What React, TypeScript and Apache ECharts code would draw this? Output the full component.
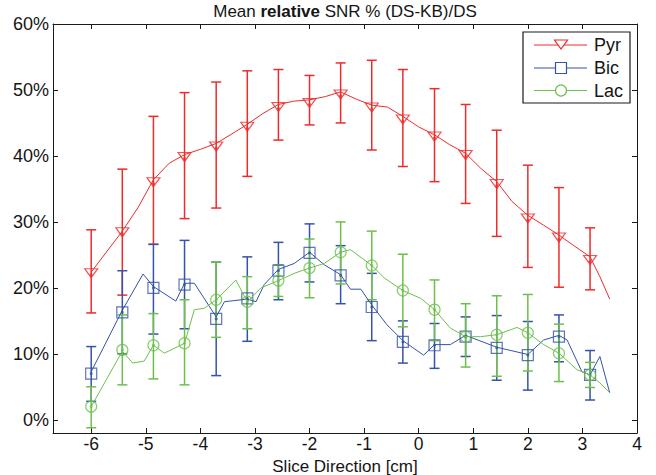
import React, { useEffect, useRef } from 'react';
import * as echarts from 'echarts';

// Marker x positions (cm)
const sliceX = [-6, -5.43, -4.86, -4.29, -3.71, -3.14, -2.57, -2.0, -1.43, -0.86, -0.29, 0.29, 0.86, 1.43, 2.0, 2.57, 3.14];
const xTicks = [-6, -5, -4, -3, -2, -1, 0, 1, 2, 3, 4];
const yTicks = [0, 10, 20, 30, 40, 50, 60];

// Pyr
const pyrMean = [22.0, 28.2, 35.8, 39.6, 41.2, 44.2, 47.2, 47.8, 49.1, 47.1, 45.3, 42.7, 39.9, 35.5, 30.3, 27.4, 24.0];
const pyrUpper = [28.8, 38.0, 46.0, 49.6, 51.2, 52.9, 53.1, 52.2, 54.1, 54.5, 53.1, 50.2, 47.8, 43.9, 38.6, 35.2, 29.1];
const pyrLower = [16.2, 18.9, 26.6, 30.5, 32.1, 36.9, 42.4, 44.7, 45.0, 40.9, 38.4, 36.1, 32.8, 27.8, 23.1, 20.1, 19.7];
const pyrLineX = [-6, -5.43, -5.14, -4.86, -4.57, -4.29, -4.0, -3.71, -3.43, -3.14, -2.86, -2.57, -2.29, -2.0, -1.71, -1.43, -1.14, -0.86, -0.57, -0.29, 0, 0.29, 0.57, 0.86, 1.14, 1.43, 1.71, 2.0, 2.29, 2.57, 2.86, 3.14, 3.32, 3.5];
const pyrLineY = [22.4, 28.6, 32.2, 36.4, 38.9, 40.2, 41.0, 41.9, 43.3, 44.8, 46.4, 47.8, 48.3, 48.5, 49.0, 49.7, 48.6, 47.7, 47.4, 46.0, 44.4, 43.2, 41.7, 40.4, 38.1, 36.1, 33.1, 31.0, 29.5, 28.0, 26.3, 24.7, 21.7, 18.3];

// Bic
const bicMean = [7.0, 16.3, 20.0, 20.5, 15.3, 18.4, 22.6, 25.3, 21.9, 17.1, 11.8, 11.3, 12.6, 10.9, 9.8, 12.6, 6.8];
const bicUpper = [11.1, 22.6, 26.6, 27.2, 23.9, 24.7, 26.9, 29.7, 26.4, 22.2, 15.0, 14.6, 15.6, 15.8, 14.9, 15.9, 10.5];
const bicLower = [2.8, 10.0, 13.0, 13.8, 6.7, 11.9, 18.2, 20.9, 17.6, 12.0, 8.6, 7.8, 9.6, 6.0, 4.5, 8.8, 3.0];
const bicLineX = [-6, -5.43, -5.05, -4.86, -4.45, -4.29, -4.11, -3.71, -3.56, -3.14, -2.98, -2.83, -2.57, -2.28, -2.0, -1.73, -1.43, -1.25, -1.06, -0.86, -0.58, -0.29, 0.09, 0.29, 0.58, 0.86, 1.43, 2.0, 2.29, 2.57, 2.72, 2.99, 3.14, 3.32, 3.5];
const bicLineY = [7.3, 16.6, 22.1, 20.2, 18.0, 20.7, 20.7, 15.6, 17.9, 18.3, 17.9, 20.5, 22.8, 23.7, 25.4, 23.5, 22.0, 19.8, 19.8, 17.4, 14.4, 12.0, 9.8, 11.4, 11.4, 12.8, 11.0, 9.9, 12.1, 12.8, 12.1, 7.3, 6.8, 9.6, 4.1];

// Lac
const lacMean = [2.0, 10.6, 11.3, 11.6, 18.2, 17.9, 21.1, 23.0, 25.4, 23.4, 19.6, 16.7, 12.6, 12.9, 13.2, 10.1, 6.8];
const lacUpper = [5.0, 15.9, 16.1, 18.2, 23.9, 21.7, 23.5, 27.4, 30.0, 28.6, 25.1, 21.2, 17.6, 18.8, 19.0, 14.5, 8.7];
const lacLower = [-1.2, 5.3, 6.2, 5.3, 12.5, 13.8, 18.7, 18.5, 20.6, 18.2, 14.1, 12.0, 8.0, 6.6, 7.4, 5.8, 4.9];
const lacLineX = [-6, -5.43, -5.24, -5.03, -4.86, -4.66, -4.29, -4.11, -3.93, -3.71, -3.35, -3.14, -2.89, -2.57, -2.28, -2.0, -1.73, -1.43, -1.25, -0.86, -0.63, -0.29, 0.04, 0.29, 0.58, 0.86, 1.13, 1.43, 1.80, 2.0, 2.29, 2.57, 2.90, 3.14, 3.32, 3.5];
const lacLineY = [2.0, 10.4, 8.6, 8.9, 11.3, 10.1, 11.6, 16.7, 16.9, 18.2, 21.2, 17.9, 20.0, 21.1, 22.2, 23.0, 23.7, 25.4, 25.8, 23.4, 21.5, 19.6, 18.4, 16.7, 13.9, 12.6, 12.6, 12.9, 14.0, 13.2, 11.4, 10.1, 7.6, 6.8, 5.6, 4.1];

const seriesNames = ['Pyr', 'Bic', 'Lac'];
const RED = '#ee2b2b';
const BLUE = '#3553a8';
const GREEN = '#6cc04a';
const FONT = "'Liberation Sans', Arial, sans-serif";
const TXT = '#151515';
const TRI = 'path://M0,0L14,0L7,10Z';

function errSeries(color: string, lo: number[], hi: number[]) {
  return {
    type: 'custom',
    xAxisIndex: 0,
    yAxisIndex: 0,
    silent: true,
    data: sliceX.map((x, i) => [x, lo[i], hi[i]]),
    encode: { x: 0, y: [1, 2] },
    renderItem: (params: any, api: any) => {
      const x = api.value(0);
      const pLo = api.coord([x, api.value(1)]);
      const pHi = api.coord([x, api.value(2)]);
      const w = 5;
      const st = { stroke: color, lineWidth: 1.5 };
      return {
        type: 'group',
        children: [
          { type: 'line', shape: { x1: pLo[0], y1: pLo[1], x2: pHi[0], y2: pHi[1] }, style: st },
          { type: 'line', shape: { x1: pHi[0] - w, y1: pHi[1], x2: pHi[0] + w, y2: pHi[1] }, style: st },
          { type: 'line', shape: { x1: pLo[0] - w, y1: pLo[1], x2: pLo[0] + w, y2: pLo[1] }, style: st },
        ],
      };
    },
  };
}

function lineSeries(name: string, color: string, xs: number[], ys: number[]) {
  return {
    name,
    type: 'line',
    data: xs.map((x, i) => [x, ys[i]]),
    symbol: 'none',
    lineStyle: { color, width: 1 },
    silent: true,
  };
}

function markerSeries(color: string, means: number[], symbol: string, size: any, offset: number[]) {
  return {
    type: 'scatter',
    data: sliceX.map((x, i) => [x, means[i]]),
    symbol,
    symbolSize: size,
    symbolOffset: offset,
    symbolKeepAspect: false,
    itemStyle: { color: 'rgba(0,0,0,0)', borderColor: color, borderWidth: 1.2 },
    silent: true,
  };
}

function dotSeries(color: string, means: number[]) {
  return {
    type: 'scatter',
    data: sliceX.map((x, i) => [x, means[i]]),
    symbol: 'circle',
    symbolSize: 3,
    itemStyle: { color },
    silent: true,
  };
}

const legendTop = 32;
const legendLeft = 523;
const legendW = 107;
const legendH = 71;
const legendRows = [45, 68, 90.5];

function legendGraphics() {
  const els: any[] = [
    { type: 'rect', shape: { x: legendLeft, y: legendTop, width: legendW, height: legendH }, style: { fill: '#fff', stroke: '#1a1a1a', lineWidth: 1.2 }, z: 100 },
  ];
  const colors = [RED, BLUE, GREEN];
  seriesNames.forEach((n, i) => {
    const y = legendRows[i];
    const c = colors[i];
    els.push({ type: 'line', shape: { x1: 534, y1: y, x2: 587, y2: y }, style: { stroke: c, lineWidth: 1 }, z: 101 });
    if (i === 0) {
      els.push({ type: 'polygon', shape: { points: [[554.5, y - 5], [567.5, y - 5], [561, y + 4]] }, style: { fill: '#fff', stroke: c, lineWidth: 1.2 }, z: 102 });
    } else if (i === 1) {
      els.push({ type: 'rect', shape: { x: 555.5, y: y - 5.5, width: 11, height: 11 }, style: { fill: '#fff', stroke: c, lineWidth: 1.2 }, z: 102 });
    } else {
      els.push({ type: 'circle', shape: { cx: 561, cy: y, r: 5.5 }, style: { fill: '#fff', stroke: c, lineWidth: 1.2 }, z: 102 });
    }
    els.push({ type: 'text', x: 594, y, style: { text: n, font: `18px ${FONT}`, fill: TXT, verticalAlign: 'middle', align: 'left' }, z: 102 });
  });
  return els;
}

export default function App() {
  const ref = useRef<HTMLDivElement>(null);
  useEffect(() => {
    if (!ref.current) return;
    const chart = echarts.init(ref.current, null, { renderer: 'svg' });
    const axisLine = { show: true, onZero: false, lineStyle: { color: '#1a1a1a', width: 1 } };
    const xBase = {
      type: 'value',
      min: -6.7,
      max: 4,
      splitLine: { show: false },
      axisLine,
      axisTick: { show: true, inside: true, length: 5, lineStyle: { color: '#1a1a1a' }, customValues: xTicks },
    };
    const yBase = {
      type: 'value',
      min: -2,
      max: 60,
      splitLine: { show: false },
      axisLine,
      axisTick: { show: true, inside: true, length: 5, lineStyle: { color: '#1a1a1a' }, customValues: yTicks },
    };
    const option: any = {
      animation: false,
      backgroundColor: '#ffffff',
      grid: { left: 53, right: 19, top: 24, bottom: 42, containLabel: false, outerBoundsMode: 'none' },
      xAxis: [
        {
          ...xBase,
          position: 'bottom',
          name: 'Slice Direction [cm]',
          nameLocation: 'middle',
          nameGap: 20,
          nameTextStyle: { fontFamily: FONT, fontSize: 17, color: TXT },
          axisLabel: { show: true, customValues: xTicks, fontFamily: FONT, fontSize: 17.5, color: TXT, margin: 2, formatter: (v: number) => String(v) },
        },
        { ...xBase, position: 'top', axisLabel: { show: false } },
      ],
      yAxis: [
        {
          ...yBase,
          position: 'left',
          axisLabel: { show: true, customValues: yTicks, fontFamily: FONT, fontSize: 18, color: TXT, margin: 4, formatter: (v: number) => `${v}%` },
        },
        { ...yBase, position: 'right', axisLabel: { show: false } },
      ],
      graphic: [
        {
          type: 'text',
          x: 345,
          y: 11,
          style: {
            text: '{n|Mean }{b|relative}{n| SNR % (DS-KB)/DS}',
            align: 'center',
            verticalAlign: 'middle',
            rich: {
              n: { fontFamily: FONT, fontSize: 17, fill: TXT, color: TXT },
              b: { fontFamily: FONT, fontSize: 17, fontWeight: 'bold', fill: TXT, color: TXT },
            },
          },
        },
        ...legendGraphics(),
      ],
      series: [
        lineSeries('Pyr', RED, pyrLineX, pyrLineY),
        errSeries(RED, pyrLower, pyrUpper),
        markerSeries(RED, pyrMean, TRI, [13, 9], [0, -1.5]),
        dotSeries(RED, pyrMean),
        lineSeries('Bic', BLUE, bicLineX, bicLineY),
        errSeries(BLUE, bicLower, bicUpper),
        markerSeries(BLUE, bicMean, 'rect', 11, [0, 0]),
        dotSeries(BLUE, bicMean),
        lineSeries('Lac', GREEN, lacLineX, lacLineY),
        errSeries(GREEN, lacLower, lacUpper),
        markerSeries(GREEN, lacMean, 'circle', 11, [0, 0]),
        dotSeries(GREEN, lacMean),
      ],
    };
    chart.setOption(option);
    return () => chart.dispose();
  }, []);
  return <div ref={ref} style={{ position: 'fixed', left: 0, top: 0, width: 656, height: 475, background: '#fff' }} />;
}
